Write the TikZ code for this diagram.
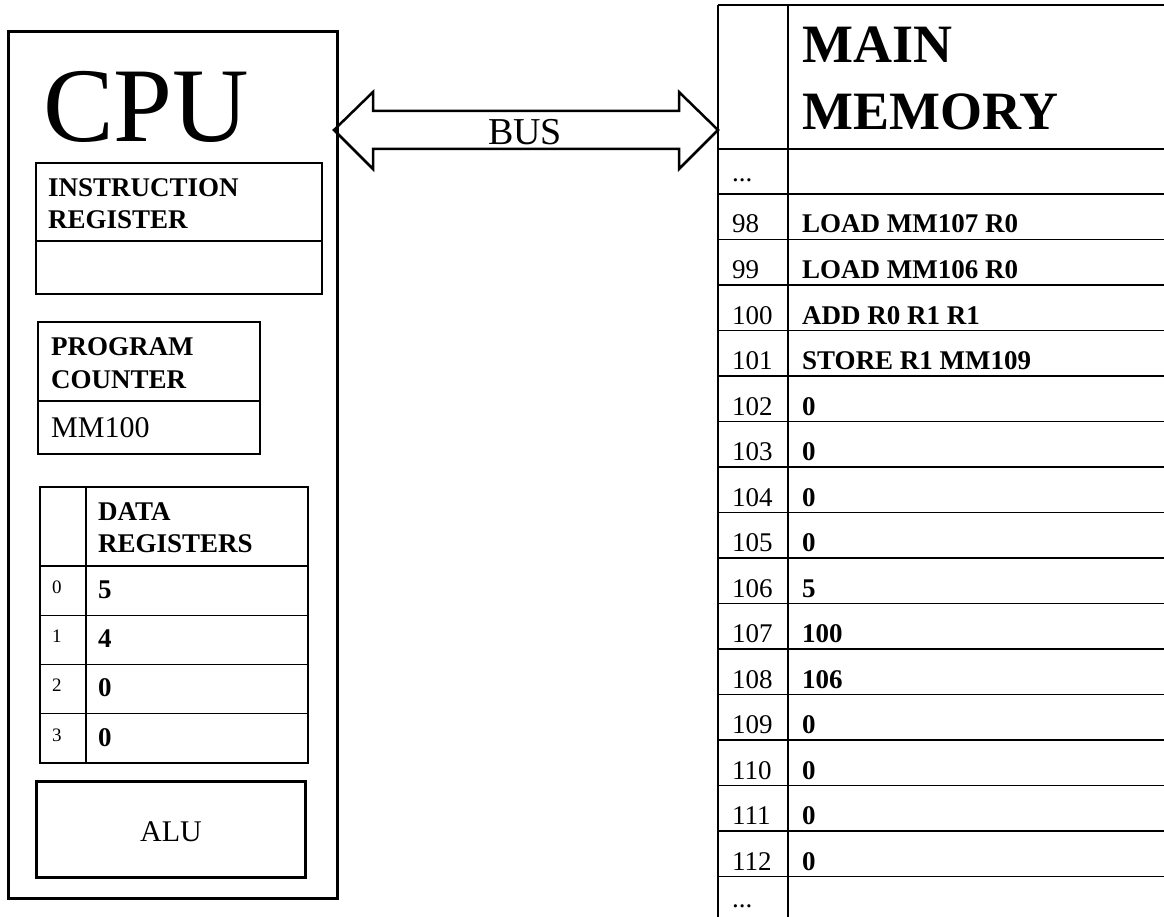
\documentclass[tikz,border=0pt]{standalone}
\usepackage{fontspec}
\setmainfont{Liberation Serif}
\usetikzlibrary{positioning}

\tikzset{
  txt/.style={anchor=base west, inner sep=0pt},
  bold/.style={txt, font=\bfseries\fontsize{27}{32}\selectfont},
  plain/.style={txt, font=\fontsize{27}{32}\selectfont},
  thin/.style={line width=1.3pt},
  heavy/.style={line width=3pt}
}

\begin{document}
\begin{tikzpicture}[x=1pt, y=-1pt, line join=miter]
                        \useasboundingbox (0,0) rectangle (1164,917);
                        % cpu
                        \draw[heavy] (8,32) rectangle (337,898);
                        \node[txt, font=\fontsize{106}{110}\selectfont] (cpu) at (43,142) {CPU};
                        % instruction register
                        \draw[thin] (36,163) rectangle (322,294) (36,241) -- (322,241);
                        \node[bold] (ir1) at (48,197) {INSTRUCTION};
                        \node[bold] (ir2) at (48,229) {REGISTER};
                        % program counter
                        \draw[thin] (38,322) rectangle (260,454) (38,401) -- (260,401);
                        \node[bold] (pc1) at (51,355) {PROGRAM};
                        \node[bold] (pc2) at (51,388) {COUNTER};
                        \node[txt, font=\fontsize{30}{34}\selectfont] (pc) at (51,437) {MM100};
                        % data registers
                        \draw[thin] (40,487) rectangle (308,763)
                        (86,487) -- (86,763)
                        (40,566) -- (308,566);
                        \node[bold] (dr1) at (98,520) {DATA};
                        \node[bold] (dr2) at (98,552) {REGISTERS};
                        \foreach \n/\v [count=\i] in {0/5, 1/4, 2/0, 3/0} {
                            \draw[thin] (40,{566+\i*49.25}) -- (308,{566+\i*49.25});
                            \node[txt, font=\fontsize{19}{22}\selectfont] (r\n) at (52,{566+\i*49.25-22}) {\n};
                            \node[bold] (d\n) at (98,{566+\i*49.25-17}) {\v};
                        }
                        % alu
                        \draw[heavy] (36,781) rectangle (305,877);
                        \node[anchor=base, inner sep=0pt, font=\fontsize{30}{34}\selectfont] (alu) at (171,841) {ALU};
                        % bus
                        \coordinate (busl) at (334,130);
                        \coordinate (busr) at (718,130);
                        \draw[line width=2.5pt] (busl) -- (373,92) -- (373,111) -- (679,111) -- (679,92)
                        -- (busr) -- (679,169) -- (679,149) -- (373,149) -- (373,169) -- cycle;
                        \node[anchor=base, inner sep=0pt, font=\fontsize{38}{42}\selectfont] (bus) at (525,145) {BUS};
                        % main memory
                        \draw[line width=1.6pt] (718,5) -- (718,925) (788,5) -- (788,925)
                        (718,5) -- (1170,5)
                        (718,149) -- (1170,149)
                        (718,194) -- (1170,194);
                        \node[txt, font=\bfseries\fontsize{54}{67}\selectfont] (mm1) at (802,63) {MAIN};
                        \node[txt, font=\bfseries\fontsize{54}{67}\selectfont] (mm2) at (802,130) {MEMORY};
                        \node[plain] (top) at (732,182) {...};
                        \foreach \a/\v [count=\i] in {98/LOAD MM107 R0, 99/LOAD MM106 R0, 100/ADD R0 R1 R1,
                            101/STORE R1 MM109, 102/0, 103/0, 104/0, 105/0, 106/5, 107/100, 108/106,
                            109/0, 110/0, 111/0, 112/0} {
                            \draw[line width=1.6pt] (718,{194+\i*45.5}) -- (1170,{194+\i*45.5});
                            \node[plain] (a\a) at (732,{194+\i*45.5-6.5}) {\a};
                            \node[bold] (v\a) at (802,{194+\i*45.5-6.5}) {\v};
                        }
                        \node[plain] (bot) at (732,907) {...};
                    \end{tikzpicture}
\end{document}
